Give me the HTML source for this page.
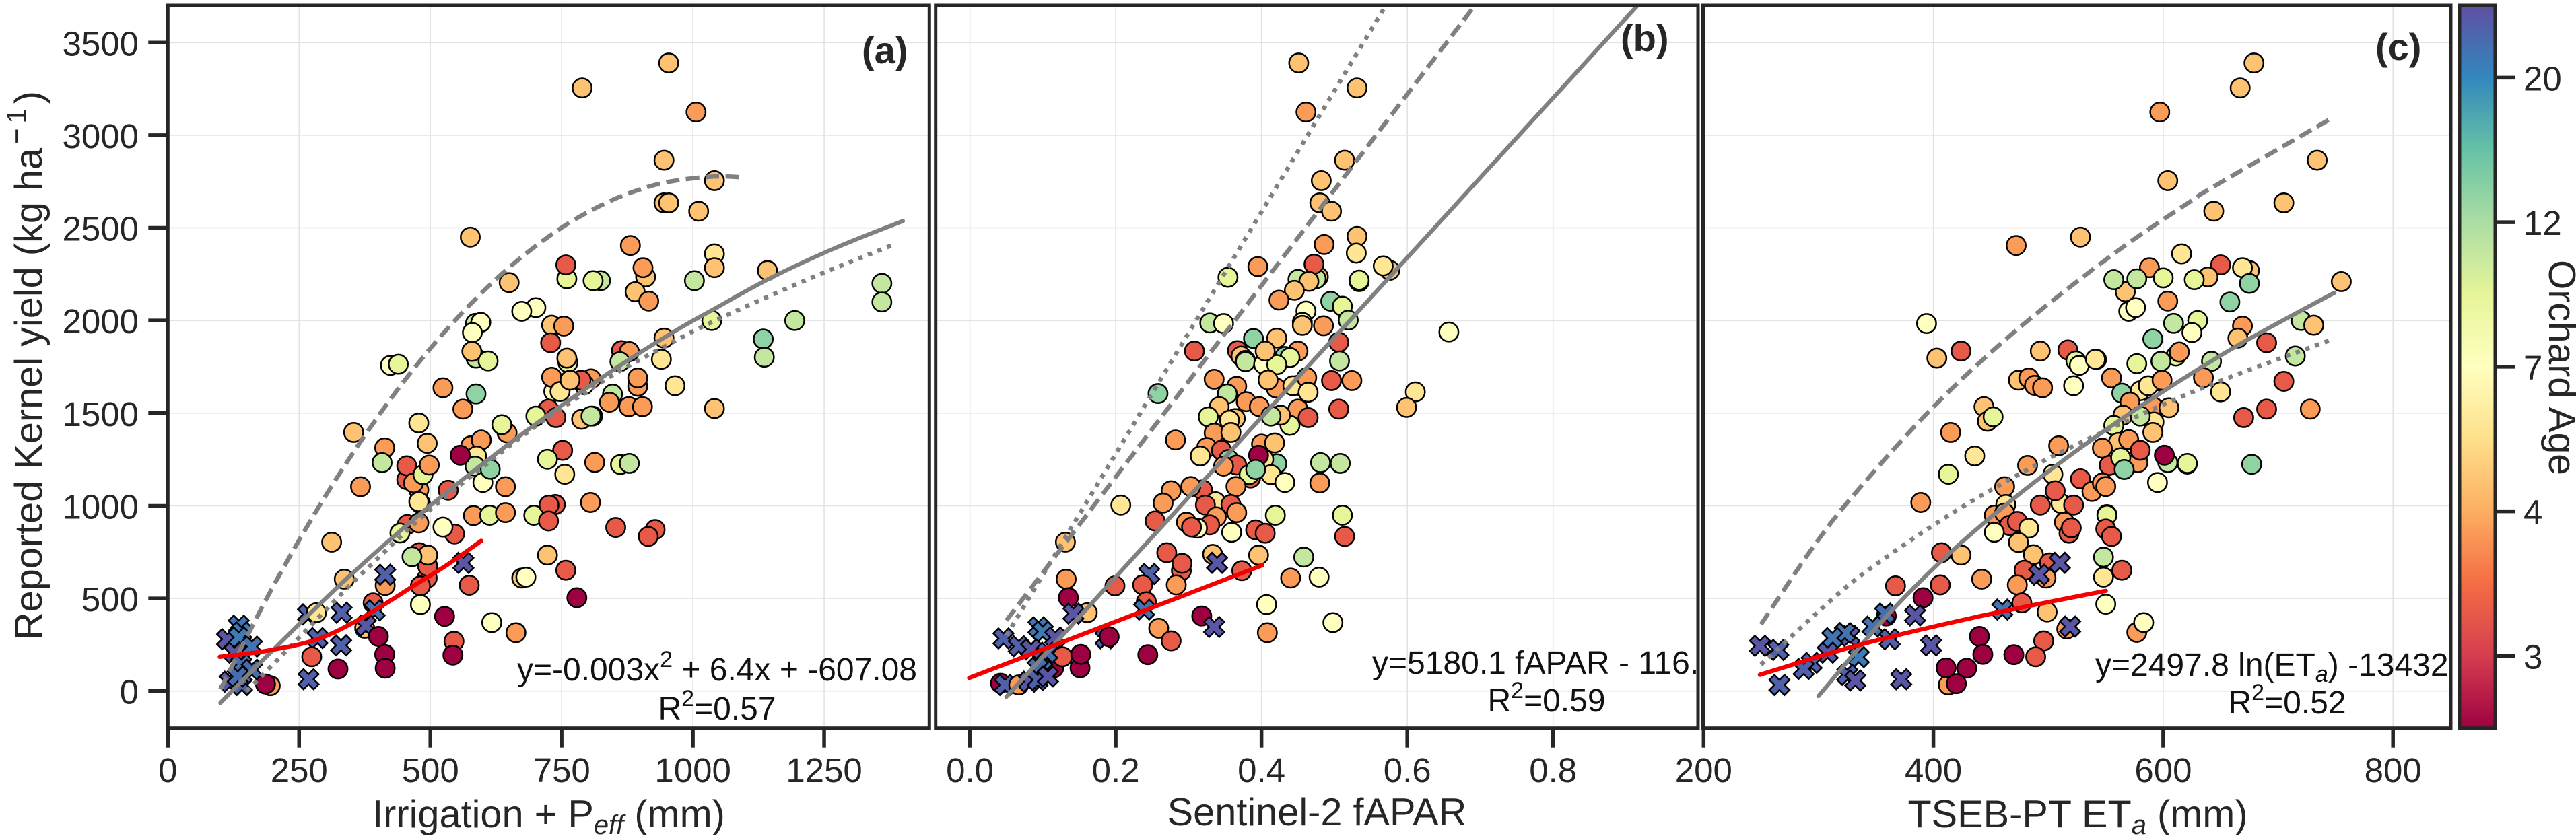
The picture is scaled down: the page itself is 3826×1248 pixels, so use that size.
<!DOCTYPE html>
<html lang="en">
<head>
<meta charset="utf-8">
<title>Reported kernel yield versus water and canopy predictors</title>
<style>
html,body{margin:0;padding:0;background:#fff;width:3826px;height:1248px;overflow:hidden}
svg{display:block}
text{font-family:"Liberation Sans",sans-serif;fill:#262626;white-space:pre}
</style>
</head>
<body>
<svg id="chart" xmlns="http://www.w3.org/2000/svg" width="3826" height="1248" viewBox="0 0 3826 1248">
  <defs>
    <clipPath id="clip-a"><rect x="249.3" y="8" width="1131" height="1073.7"/></clipPath>
    <clipPath id="clip-b"><rect x="1389.7" y="8" width="1132.3" height="1073.7"/></clipPath>
    <clipPath id="clip-c"><rect x="2529.5" y="8" width="1110.5" height="1073.7"/></clipPath>
    <linearGradient id="spectral" x1="0" y1="1" x2="0" y2="0">
      <stop offset="0" stop-color="#9e0142"/><stop offset="0.1" stop-color="#d53e4f"/>
      <stop offset="0.2" stop-color="#f46d43"/><stop offset="0.3" stop-color="#fdae61"/>
      <stop offset="0.4" stop-color="#fee08b"/><stop offset="0.5" stop-color="#ffffbf"/>
      <stop offset="0.6" stop-color="#e6f598"/><stop offset="0.7" stop-color="#abdda4"/>
      <stop offset="0.8" stop-color="#66c2a5"/><stop offset="0.9" stop-color="#3288bd"/>
      <stop offset="1" stop-color="#5e4fa2"/>
    </linearGradient>
  </defs>
  <rect x="0" y="0" width="3826" height="1248" fill="#fff"/>
  <g id="panel-a"></g>
  <g id="panel-b"></g>
  <g id="panel-c"></g>

  <text transform="translate(62,951) rotate(-90)" font-size="57.7">Reported Kernel yield (kg ha<tspan dx="6" dy="-24" font-size="40">−</tspan><tspan dx="7" font-size="40">1</tspan><tspan dx="7" dy="24">)</tspan></text>
  <text x="815" y="1229" font-size="57.7" text-anchor="middle">Irrigation + P<tspan dy="10" font-size="40" font-style="italic">eff</tspan><tspan dy="-10"> (mm)</tspan></text>
  <text x="1956" y="1226" font-size="57.7" text-anchor="middle">Sentinel-2 fAPAR</text>
  <text x="3086" y="1229" font-size="57.7" text-anchor="middle">TSEB-PT ET<tspan dy="10" font-size="40" font-style="italic">a</tspan><tspan dy="-10"> (mm)</tspan></text>

  <text x="1280" y="94" font-size="56" font-weight="bold">(a)</text>
  <text x="2407" y="76" font-size="56" font-weight="bold">(b)</text>
  <text x="3528" y="89" font-size="56" font-weight="bold">(c)</text>

  <text x="1065" y="1011" font-size="48" text-anchor="middle" style="fill:#111">y=-0.003x<tspan dy="-20" font-size="34">2</tspan><tspan dy="20"> + 6.4x + -607.08</tspan></text>
  <text x="1065" y="1069" font-size="48" text-anchor="middle" style="fill:#111">R<tspan dy="-20" font-size="34">2</tspan><tspan dy="20">=0.57</tspan></text>
  <g clip-path="url(#clip-b)">
    <text x="2038" y="1001" font-size="48" style="fill:#111">y=5180.1 fAPAR - 116.</text>
  </g>
  <text x="2297" y="1057" font-size="48" text-anchor="middle" style="fill:#111">R<tspan dy="-20" font-size="34">2</tspan><tspan dy="20">=0.59</tspan></text>
  <g clip-path="url(#clip-c)">
    <text x="3112" y="1004" font-size="48" style="fill:#111">y=2497.8 ln(ET<tspan dy="9" font-size="34" font-style="italic">a</tspan><tspan dy="-9">) -13432.</tspan></text>
  </g>
  <text x="3397" y="1060" font-size="48" text-anchor="middle" style="fill:#111">R<tspan dy="-20" font-size="34">2</tspan><tspan dy="20">=0.52</tspan></text>

  <rect x="3653" y="8" width="53" height="1073.7" fill="url(#spectral)" stroke="#262626" stroke-width="5"/>
  <g id="colorbar-ticks"></g>
  <text transform="translate(3786,386) rotate(90)" font-size="57">Orchard Age</text>
</svg>

<script>
/* ---------- shared axis values ---------- */
const yieldTicks = [0, 500, 1000, 1500, 2000, 2500, 3000, 3500];
const ticksA = [0, 250, 500, 750, 1000, 1250];
const ticksB = [0, 0.2, 0.4, 0.6, 0.8];
const tickLabelsB = ['0.0', '0.2', '0.4', '0.6', '0.8'];
const ticksC = [200, 400, 600, 800];
const ageTicks = [3, 4, 7, 12, 20];
const ageKnots = [2, 3, 4, 7, 12, 20, 24];
const ageKnotFractions = [0, 0.1, 0.3, 0.5, 0.7, 0.9, 1];
const spectralStops = ['#9e0142','#d53e4f','#f46d43','#fdae61','#fee08b','#ffffbf','#e6f598','#abdda4','#66c2a5','#3288bd','#5e4fa2'];

/* ---------- panel (a): irrigation + Peff ---------- */
const aX = [954,789,1006,945,1041,945,954,1011,576,881,
1041,1041,910,905,760,758,650,824,810,1003,
1142,1360,1360,890,916,701,674,1194,1036,586,
596,580,731,754,729,1134,1136,945,587,579,
610,762,760,864,879,861,940,424,439,524,
587,562,735,731,806,793,787,747,766,895,
895,966,847,841,878,904,1041,723,725,739,
701,788,809,806,646,636,354,478,494,413,
408,577,597,588,585,600,614,557,643,752,
723,756,813,862,879,455,455,478,468,486,
498,367,481,478,534,805,582,613,643,697,
738,726,725,456,478,442,546,524,853,928,
915,312,479,494,495,495,465,723,574,563,
414,414,336,758,674,682,481,779,481,391,
394,375,377,267,283,331,527,617,663,401,
545,543,285,330,413,414,274,324,268,135,
140,113,135,160,127,140,160,118,141,133,
195,186];
const aY = [3390,3255,3125,2865,2755,2635,2635,2590,2450,2405,
2360,2285,2235,2285,2225,2300,2205,2215,2215,2215,
2270,2200,2100,2155,2105,2070,2050,2000,2000,1985,
1990,1935,1975,1970,1880,1900,1802,1905,1797,1833,
1782,1773,1797,1837,1832,1778,1791,1758,1764,1637,
1604,1522,1617,1694,1685,1654,1678,1617,1678,1645,
1690,1648,1603,1559,1535,1535,1525,1516,1522,1476,
1484,1467,1484,1484,1394,1438,1396,1447,1337,1313,
1233,1324,1355,1269,1214,1126,1197,1273,1103,1299,
1251,1170,1234,1223,1229,1141,1216,1086,1123,1168,
1220,1103,1013,1022,1084,1018,947,949,963,949,
1007,1004,918,899,908,853,848,885,883,872,
835,804,747,610,674,734,725,734,571,692,
570,628,604,652,610,615,568,504,467,476,
436,339,353,414,423,423,403,370,315,295,
269,194,286,247,198,123,185,119,64,353,
317,280,289,240,207,143,115,51,33,79,
29,38];
const aAge = [4.6,4.6,3.85,4.6,4.6,4.6,4.6,4.6,4.6,3.85,
5.8,4.6,4.6,3.85,9.5,3.3,4.6,11,9.5,11,
4.6,11,11,4.6,3.85,7,7,11,9.5,11,
7,7,4.6,3.85,3.3,13.6,11,4.6,11,4.6,
9.5,9.5,4.6,3.3,3.85,11,5.8,7,9.5,3.85,
13.6,3.85,7,3.85,3.85,7,3.3,5.8,4.6,3.85,
3.85,5.8,11,3.85,3.85,3.85,4.6,3.3,3.3,3.3,
9.5,4.6,3.85,11,3.85,9.5,4.6,5.8,4.6,3.85,
11,3.85,3.85,5.8,11,7,13.6,2,3.85,3.3,
9.5,5.8,3.85,9.5,11,3.3,3.3,3.85,3.85,9.5,
3.85,3.85,3.85,5.8,3.3,3.85,3.85,9.5,3.85,9.5,
3.3,3.3,3.3,3.3,3.85,9.5,3.3,7,3.3,3.3,
3.3,4.6,3.3,3.3,3.3,4.6,11,4.6,3.3,23.5,
3.85,22.8,4.6,3.3,4.6,7,3.3,2,7,3.3,
21.5,4.6,23.5,22.8,5.8,22.8,2,7,3.85,2,
3.3,2,22.8,22.8,2,2,3.3,2,22.8,21.5,
21,23.5,21,21.5,23.5,22,22,23.5,22.8,22,
3.85,2];
const aSolidX = [100,200,336,478,620,744,868,973,1039,1145,1270,1400];
const aSolidY = [-64,221,595,950,1270,1530,1770,1955,2060,2225,2390,2537];
const aDashX = [100,186,260,323,385,459,546,645,744,831,899,958,1039,1099];
const aDashY = [9,488,863,1156,1420,1706,1998,2274,2490,2630,2707,2751,2777,2772];
const aDotX = [150,187,319,372,502,670,744,850,943,1039,1213,1387];
const aDotY = [0,105,490,640,985,1365,1515,1710,1855,1995,2215,2415];
const aRedX = [99,186,285,372,471,533,597];
const aRedY = [185,216,280,399,573,683,811];

/* ---------- panel (b): Sentinel-2 fAPAR ---------- */
const bX = [.451,.531,.461,.514,.482,.480,.496,.531,.486,.530,
.395,.576,.567,.478,.475,.450,.472,.465,.354,.534,
.534,.445,.424,.495,.511,.519,.461,.456,.456,.485,
.329,.348,.506,.308,.367,.372,.378,.378,.389,.421,
.432,.450,.439,.403,.421,.405,.507,.335,.366,.353,
.420,.409,.450,.443,.462,.464,.496,.524,.506,.611,
.599,.657,.258,.379,.397,.450,.464,.439,.426,.413,
.342,.327,.364,.356,.335,.358,.282,.325,.345,.316,
.400,.418,.421,.403,.396,.508,.481,.355,.366,.348,
.385,.383,.413,.392,.432,.480,.365,.319,.303,.276,
.265,.207,.337,.323,.358,.366,.419,.511,.254,.297,
.338,.329,.312,.304,.359,.392,.405,.514,.131,.270,
.290,.291,.333,.339,.396,.458,.373,.440,.479,.132,
.246,.237,.283,.199,.135,.407,.242,.239,.161,.142,
.318,.335,.498,.259,.408,.186,.191,.276,.094,.100,
.117,.046,.067,.084,.115,.127,.151,.152,.244,.099,
.106,.093,.042,.048,.067,.081,.093,.107];
const bY = [3390,3255,3125,2865,2755,2635,2590,2454,2410,2364,
2291,2271,2295,2236,2225,2222,2304,2211,2233,2210,
2218,2163,2110,2104,2077,2002,2051,1990,1974,1972,
1987,1984,1883,1835,1837,1808,1785,1778,1903,1905,
1806,1835,1800,1764,1762,1835,1782,1683,1645,1604,
1636,1679,1650,1648,1692,1613,1676,1676,1522,1615,
1531,1938,1606,1562,1535,1522,1476,1434,1489,1484,
1535,1480,1471,1462,1392,1396,1355,1315,1300,1269,
1333,1339,1227,1251,1273,1229,1233,1250,1220,1214,
1150,1168,1168,1196,1126,1123,1104,1086,1104,1081,
1015,1004,1022,1004,1007,963,949,949,918,912,
940,897,879,885,857,870,852,835,804,747,
650,689,738,692,734,723,650,610,615,604,
632,573,573,568,504,467,482,440,423,418,
405,346,370,339,315,285,293,271,344,320,
289,284,242,225,125,185,125,198,196,170,
207,125,42,33,33,51,60,79];
const bAge = [4.6,4.6,3.85,4.6,4.6,4.6,4.6,4.6,3.85,5.8,
3.85,4.6,5.8,4.6,11,11,3.3,4.6,9.5,9.5,
9.5,4.6,3.85,13.6,9.5,11,7,7,4.6,3.85,
11,7,3.3,3.3,3.3,4.6,9.5,11,13.6,4.6,
13.6,3.85,9.5,7,9.5,4.6,11,3.85,3.85,11,
3.85,4.6,7,5.8,3.85,5.8,3.3,3.85,3.3,5.8,
4.6,7,13.6,3.85,3.85,3.85,3.3,9.5,4.6,11,
4.6,9.5,4.6,5.8,3.85,4.6,3.85,3.85,3.3,5.8,
3.85,4.6,13.6,5.8,2,11,11,13.6,3.3,3.85,
3.3,9.5,5.8,13.6,7,3.85,3.85,3.3,3.85,3.85,
3.85,5.8,5.8,3.3,3.3,3.85,9.5,9.5,3.3,3.85,
3.85,3.3,7,3.3,7,3.3,3.3,3.3,4.6,3.3,
3.3,3.3,4.6,23.5,4.6,11,3.3,3.85,7,3.85,
22.8,3.3,3.85,3.3,2,7,3.3,21.5,4.6,23.5,
2,23.5,7,3.85,3.85,22.8,2,3.3,21.5,21,
23.5,22.8,22.8,23.5,2,3.3,2,2,2,22,
22,22,2,22.8,3.85,23.5,22.8,23.5];
const bSolidX = [0.05, 0.915];
const bSolidY = [-31, 3697];
const bDashX = [0.05, 0.692];
const bDashY = [381, 3697];
const bDotX = [0.05, 0.57];
const bDotY = [300, 3697];
const bRedX = [-0.001, 0.401];
const bRedY = [71, 679];

/* ---------- panel (c): TSEB-PT ETa ---------- */
const cX = [679,667,597,734,604,705,644,528,472,616,
675,669,650,588,639,627,600,567,557,577,
570,576,720,630,394,609,731,669,625,591,
755,675,604,658,665,690,715,642,611,614,
598,577,542,403,424,493,517,524,527,541,
705,635,555,598,650,728,690,670,677,474,
483,488,495,522,564,580,587,599,571,591,
605,565,592,580,557,591,444,447,452,415,
436,413,509,561,570,547,578,553,580,563,
566,604,601,621,621,595,482,504,528,538,
547,550,462,511,506,493,522,463,389,453,
462,466,473,483,514,518,520,551,551,550,
555,453,474,407,424,487,548,501,479,498,
492,510,548,564,442,367,406,473,391,550,
477,460,499,359,358,384,516,519,577,583,
347,440,443,496,489,470,362,398,327,323,
312,308,249,265,335,294,287,413,411,429,
420,266,372,325,332];
const cY = [3390,3255,3125,2865,2755,2635,2590,2450,2405,2360,
2270,2285,2300,2285,2235,2220,2230,2155,2220,2225,
2050,2070,2000,2000,1984,1985,1975,1970,1935,1900,
2210,2200,2105,2100,1905,1880,1808,1780,1808,1830,
1780,1767,1790,1797,1835,1835,1841,1782,1758,1791,
1672,1692,1690,1672,1615,1522,1522,1476,1224,1678,
1690,1650,1637,1648,1608,1621,1648,1678,1560,1535,
1529,1489,1452,1484,1434,1396,1535,1456,1480,1396,
1269,1170,1324,1342,1357,1311,1233,1218,1300,1260,
1196,1233,1273,1225,1229,1126,1218,1170,1145,1077,
1123,1104,1103,1013,1081,1004,1004,1007,1018,949,
961,894,916,879,912,852,881,953,949,875,
835,857,802,747,734,736,723,692,652,610,
628,692,615,652,604,568,573,573,504,469,
476,440,427,405,418,408,335,348,317,370,
348,295,198,271,185,196,280,247,298,313,
286,207,244,222,183,152,119,33,125,123,
40,33,64,88,57];
const cAge = [4.6,4.6,3.85,4.6,4.6,4.6,4.6,4.6,3.85,5.8,
4.6,5.8,3.3,3.85,4.6,9.5,9.5,4.6,11,11,
7,7,11,9.5,7,11,4.6,3.85,7,13.6,
4.6,13.6,3.85,13.6,4.6,3.3,11,11,9.5,3.85,
11,9.5,5.8,4.6,3.3,4.6,3.3,9.5,7,5.8,
3.3,3.85,3.85,3.85,5.8,3.85,3.3,3.3,13.6,4.6,
3.85,3.85,3.85,7,13.6,5.8,5.8,3.85,3.85,3.85,
4.6,4.6,5.8,11,9.5,4.6,4.6,4.6,9.5,3.85,
5.8,9.5,3.85,4.6,3.85,3.85,3.85,3.3,3.3,9.5,
13.6,11,2,9.5,9.5,7,3.85,5.8,3.3,3.85,
3.85,3.85,3.85,5.8,3.3,3.3,3.3,5.8,3.85,3.85,
3.85,3.3,3.3,5.8,3.85,3.3,3.3,9.5,9.5,3.3,
3.3,7,4.6,3.3,4.6,4.6,11,3.3,3.3,3.85,
23.5,23.5,5.8,3.3,3.85,3.3,3.3,3.85,2,7,
3.3,21.5,4.6,2,22,23.5,3.85,23.5,3.85,7,
21.5,2,2,3.3,3.3,2,22.8,23.5,23.5,21.5,
21.5,23.5,23.5,22.8,21,22.8,22.8,3.85,2,2,
2,22.8,23.5,22.8,23.5];
const cSolidX = [300,359,416,473,530,587,663,749];
const cSolidY = [-27,402,755,1055,1322,1565,1859,2150];
const cDashX = [250,294,331,399,473,558,624,644,748];
const cDashY = [360,766,1061,1528,1952,2365,2644,2723,3097];
const cDotX = [250,317,357,416,473,521,601,663,746];
const cDotY = [143,524,714,959,1165,1320,1549,1706,1895];
const cRedX = [249,339,445,550];
const cRedY = [88,255,410,541];

/* ---------- axis functions ---------- */
const NS = 'http://www.w3.org/2000/svg';
const yTop = 8, yBottom = 1081.7;
function yScale(v){ return 1026.7 - 0.27526 * v; }
function xScaleA(v){ return 249.3 + 0.7798 * v; }
function xScaleB(v){ return 1440.6 + 1082.6 * v; }
function xScaleC(v){ return 2871.6 + 1.7065 * (v - 400); }

function ageFraction(a){
  for (let i = 1; i < ageKnots.length; i++) {
    if (a <= ageKnots[i]) {
      const f = (a - ageKnots[i-1]) / (ageKnots[i] - ageKnots[i-1]);
      return ageKnotFractions[i-1] + f * (ageKnotFractions[i] - ageKnotFractions[i-1]);
    }
  }
  return 1;
}
function hexToRgb(h){ return [1,3,5].map(function(i){ return parseInt(h.substr(i,2),16); }); }
function ageColor(a){
  const t = Math.max(0, Math.min(1, ageFraction(a))) * (spectralStops.length - 1);
  const i = Math.min(Math.floor(t), spectralStops.length - 2);
  const p = hexToRgb(spectralStops[i]), q = hexToRgb(spectralStops[i+1]);
  const f = t - i;
  return 'rgb(' + [0,1,2].map(function(k){ return Math.round(p[k] + (q[k]-p[k]) * f); }).join(',') + ')';
}
function mk(tag, attrs, parent){
  const el = document.createElementNS(NS, tag);
  for (const k in attrs) el.setAttribute(k, attrs[k]);
  parent.appendChild(el);
  return el;
}
function smoothPath(px, py){
  let d = 'M' + px[0].toFixed(1) + ' ' + py[0].toFixed(1);
  for (let i = 0; i < px.length - 1; i++) {
    const x0 = px[Math.max(i-1,0)], y0 = py[Math.max(i-1,0)];
    const x3 = px[Math.min(i+2,px.length-1)], y3 = py[Math.min(i+2,px.length-1)];
    const c1x = px[i] + (px[i+1]-x0)/6, c1y = py[i] + (py[i+1]-y0)/6;
    const c2x = px[i+1] - (x3-px[i])/6, c2y = py[i+1] - (y3-py[i])/6;
    d += 'C' + [c1x,c1y,c2x,c2y,px[i+1],py[i+1]].map(function(n){ return n.toFixed(1); }).join(' ');
  }
  return d;
}
const X_SHAPE = [[-7.5,-15],[0,-7.5],[7.5,-15],[15,-7.5],[7.5,0],[15,7.5],[7.5,15],[0,7.5],[-7.5,15],[-15,7.5],[-7.5,0],[-15,-7.5]];

function drawPanel(cfg){
  const root = document.getElementById(cfg.id);
  const x = cfg.xScale;
  /* grid */
  const grid = mk('g', {stroke:'#e3e3e3','stroke-width':1.6}, root);
  
  
  cfg.xTicks.forEach(function(v){
    const l = mk('line', {x1:x(v), x2:x(v), y1:yTop, y2:yBottom}, grid);
    
    
  });
  yieldTicks.forEach(function(v){
    const l = mk('line', {x1:cfg.left, x2:cfg.right, y1:yScale(v), y2:yScale(v)}, grid);
    
    
  });
  /* points */
  const pts = mk('g', {'clip-path':'url(#' + cfg.clip + ')', stroke:'#000', 'stroke-width':2.5}, root);
  
  
  cfg.px.forEach(function(v, i){
    const cx = x(v), cy = yScale(cfg.py[i]), fill = ageColor(cfg.age[i]);
    if (cfg.age[i] >= 20) {
      const poly = mk('polygon', {fill:fill, points:X_SHAPE.map(function(s){ return (cx+s[0]).toFixed(1)+','+(cy+s[1]).toFixed(1); }).join(' ')}, pts);
      
      
    } else {
      const c = mk('circle', {cx:cx.toFixed(1), cy:cy.toFixed(1), r:14.2, fill:fill}, pts);
      
      
    }
  });
  /* fit lines */
  const lines = mk('g', {'clip-path':'url(#' + cfg.clip + ')', fill:'none'}, root);
  
  
  const dash = mk('path', {d:smoothPath(cfg.dashX.map(x), cfg.dashY.map(yScale)), stroke:'#808080','stroke-width':6.5,'stroke-dasharray':'20 9.5'}, lines);
  
  
  const dot = mk('path', {d:smoothPath(cfg.dotX.map(x), cfg.dotY.map(yScale)), stroke:'#808080','stroke-width':6.5,'stroke-dasharray':'6.5 8.7'}, lines);
  
  
  const solid = mk('path', {d:smoothPath(cfg.solidX.map(x), cfg.solidY.map(yScale)), stroke:'#808080','stroke-width':6.2,'stroke-linecap':'round'}, lines);
  
  
  const red = mk('path', {d:smoothPath(cfg.redX.map(x), cfg.redY.map(yScale)), stroke:'#f40000','stroke-width':6.4,'stroke-linecap':'round'}, lines);
  
  
  /* ticks */
  cfg.xTicks.forEach(function(v, i){
    const t = mk('line', {x1:x(v), x2:x(v), y1:yBottom, y2:yBottom + 29, stroke:'#262626','stroke-width':5.5}, root);
    
    
    const lab = mk('text', {x:x(v), y:1162, 'font-size':51, 'text-anchor':'middle'}, root);
    
    
    lab.textContent = cfg.xLabels ? cfg.xLabels[i] : String(v);
  });
  if (cfg.yTicks) {
    yieldTicks.forEach(function(v){
      const t = mk('line', {x1:cfg.left - 29, x2:cfg.left, y1:yScale(v), y2:yScale(v), stroke:'#262626','stroke-width':5.5}, root);
      
      
      const lab = mk('text', {x:206, y:yScale(v) + 19, 'font-size':51, 'text-anchor':'end'}, root);
      
      
      lab.textContent = String(v);
    });
  }
  /* frame */
  const frame = mk('rect', {x:cfg.left, y:yTop, width:cfg.right - cfg.left, height:yBottom - yTop, fill:'none', stroke:'#262626','stroke-width':5}, root);
  
  
}

drawPanel({id:'panel-a', clip:'clip-a', left:249.3, right:1380.3, xScale:xScaleA, xTicks:ticksA, yTicks:true,
  px:aX, py:aY, age:aAge, solidX:aSolidX, solidY:aSolidY, dashX:aDashX, dashY:aDashY, dotX:aDotX, dotY:aDotY, redX:aRedX, redY:aRedY});
drawPanel({id:'panel-b', clip:'clip-b', left:1389.7, right:2522, xScale:xScaleB, xTicks:ticksB, xLabels:tickLabelsB,
  px:bX, py:bY, age:bAge, solidX:bSolidX, solidY:bSolidY, dashX:bDashX, dashY:bDashY, dotX:bDotX, dotY:bDotY, redX:bRedX, redY:bRedY});
drawPanel({id:'panel-c', clip:'clip-c', left:2529.5, right:3640, xScale:xScaleC, xTicks:ticksC,
  px:cX, py:cY, age:cAge, solidX:cSolidX, solidY:cSolidY, dashX:cDashX, dashY:cDashY, dotX:cDotX, dotY:cDotY, redX:cRedX, redY:cRedY});

/* colorbar ticks */
const cbTicks = document.getElementById('colorbar-ticks');
ageTicks.forEach(function(a){
  const yy = yBottom - ageFraction(a) * (yBottom - yTop);
  const t = mk('line', {x1:3706, x2:3736, y1:yy, y2:yy, stroke:'#262626','stroke-width':5.5}, cbTicks);
  
  
  const lab = mk('text', {x:3748, y:yy + 19, 'font-size':51}, cbTicks);
  
  
  lab.textContent = String(a);
});
</script>
</body>
</html>
